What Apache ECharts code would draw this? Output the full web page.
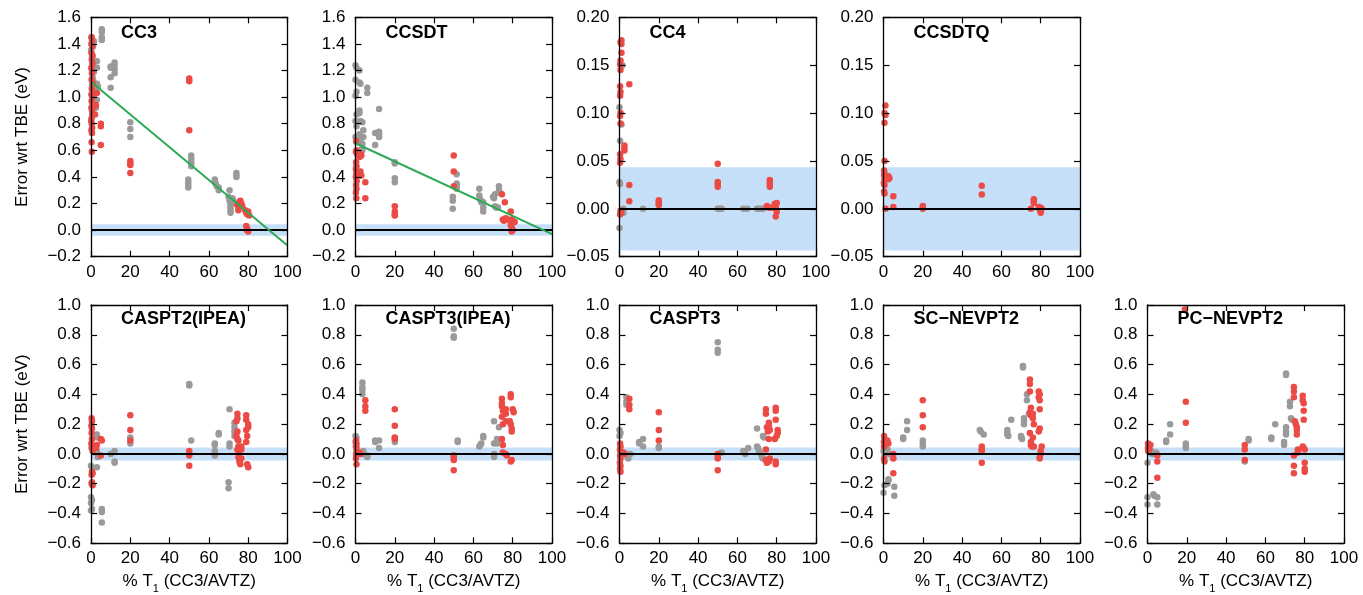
<!DOCTYPE html>
<html><head><meta charset="utf-8">
<script src="https://cdn.jsdelivr.net/npm/echarts@6/dist/echarts.min.js"></script>
<style>html,body{margin:0;padding:0;background:#fff}#c{width:1363px;height:595px}</style>
</head><body><div id="c"></div>
<script>
const panelNames = ['CC3','CCSDT','CC4','CCSDTQ','CASPT2(IPEA)','CASPT3(IPEA)','CASPT3','SC\u2212NEVPT2','PC\u2212NEVPT2'];
const xTicks = [0,20,40,60,80,100];
const yTicksWide = [-0.2,0,0.2,0.4,0.6,0.8,1.0,1.2,1.4,1.6];
const yTicksSmall = [-0.05,0,0.05,0.10,0.15,0.20];
const yTicksBottom = [-0.6,-0.4,-0.2,0,0.2,0.4,0.6,0.8,1.0];
const chemAccuracy = 0.0434;

const cc3Gray = [[0,1.35],[0.5,1.30],[1,1.26],[0.3,1.21],[1.5,1.19],[0.8,1.15],[1.2,1.12],[0.5,1.09],[2,1.05],[1.3,1.00],[2,0.95],[2.5,0.92],[1,1.38],[1.5,1.42],[0.2,1.45],[3,1.27],[3,1.22],[3,1.10],[3.5,1.08],[3,0.98],[5.5,1.51],[5.5,1.49],[5.5,1.45],[5.5,1.43],[10,1.23],[10,1.22],[10,1.15],[10,1.07],[12,1.26],[12,1.24],[12,1.21],[12,1.18],[20,0.81],[20,0.76],[20,0.70],[49.5,0.38],[49.5,0.36],[49.5,0.34],[49.5,0.32],[51,0.56],[51,0.54],[51,0.52],[51,0.50],[51,0.48],[63,0.38],[63,0.36],[63.5,0.35],[64,0.33],[65,0.32],[65,0.30],[70.5,0.30],[70,0.25],[70.5,0.22],[71,0.21],[71,0.19],[71,0.17],[71,0.15],[71,0.13],[72,0.24],[72.5,0.22],[73,0.20],[74,0.43],[74,0.41],[74,0.40]];
const cc3Red = [[0.3,1.45],[0.5,1.43],[0.2,1.40],[0.6,1.38],[0.3,1.33],[0.8,1.31],[0.4,1.28],[0.7,1.25],[0.2,1.22],[0.5,1.18],[0.3,1.13],[0.9,1.10],[0.4,1.06],[0.2,1.02],[0.6,1.00],[0.3,0.97],[0.8,0.94],[0.2,0.92],[0.5,0.90],[0.7,0.87],[0.3,0.84],[0.1,0.82],[0.4,0.80],[0.6,0.77],[0.2,0.75],[0.5,0.73],[0.3,0.66],[0.4,0.59],[3,1.03],[2.5,0.94],[2,0.87],[1.5,0.93],[5,0.80],[5,0.78],[5,0.64],[20,0.52],[20,0.50],[20,0.49],[20,0.43],[50,1.14],[50,1.12],[50,0.75],[74.5,0.19],[75,0.17],[75.5,0.21],[76,0.22],[76.5,0.20],[77,0.18],[75,0.15],[78.5,0.15],[79,0.13],[79.5,0.12],[80,0.14],[80.5,0.11],[79,0.03],[79.5,0.01],[80,-0.01],[79.3,0.0]];
const cc3Fit = [[0,1.115],[100,-0.115]];

const ccsdtGray = [[0,1.24],[0.5,1.22],[0,1.13],[0.5,1.04],[0,1.01],[0.5,0.87],[0,0.82],[0.5,0.78],[0,0.70],[0.5,0.66],[2,1.20],[2,1.11],[2.5,1.10],[2,0.90],[2,0.88],[2.5,0.82],[2,0.72],[2.5,0.68],[3.5,0.81],[3.5,0.65],[3.5,0.62],[3.5,0.60],[4,0.75],[4,0.70],[6,1.07],[6,1.03],[10,0.73],[10,0.64],[12,0.91],[12,0.74],[12,0.72],[12,0.70],[20,0.51],[20,0.50],[20,0.39],[20,0.36],[49.5,0.25],[49.5,0.22],[49.5,0.16],[51.5,0.42],[51.5,0.35],[51.5,0.33],[51.5,0.31],[63,0.31],[63,0.26],[63.5,0.23],[64,0.21],[65,0.21],[65,0.17],[65,0.14],[70,0.25],[70.5,0.24],[71,0.27],[71,0.18],[71.5,0.17],[73,0.33],[73,0.30],[73.5,0.28],[72.5,0.17]];
const ccsdtRed = [[0.3,0.67],[0.5,0.60],[0.2,0.59],[0.8,0.57],[0.3,0.51],[0.5,0.48],[0.2,0.46],[0.7,0.44],[0.4,0.42],[0.2,0.40],[0.6,0.37],[0.3,0.34],[0.5,0.31],[0.2,0.28],[0.4,0.24],[2,0.55],[2.5,0.44],[3,0.41],[2.5,0.57],[3,0.56],[5,0.36],[5,0.24],[20,0.18],[20,0.14],[20,0.12],[20,0.11],[50,0.56],[50,0.44],[50,0.33],[74.5,0.27],[75,0.08],[75.5,0.07],[76,0.21],[76.5,0.09],[77.5,0.08],[79,0.14],[79.5,0.08],[80,0.06],[79,0.04],[79.5,0.02],[80,0.0],[79.5,-0.01],[81,0.06]];
const ccsdtFit = [[0,0.653],[100,-0.03]];

const cc4Gray = [[0,0.106],[0.3,0.071],[0,0.028],[0.3,0.026],[0,-0.020],[1.5,0.150],[1,0.088],[2,0.0],[2,-0.004],[12,0.0],[50,0.0],[51,0.0],[52,0.0],[63,0.0],[65,0.0],[70,0.0],[71,0.0],[72,0.0],[73,0.0]];
const cc4Red = [[1,0.176],[0.5,0.174],[1,0.172],[1,0.163],[0.5,0.155],[0.3,0.151],[0.5,0.145],[0.3,0.128],[0.5,0.122],[0.3,0.118],[0.5,0.100],[0.3,0.097],[0.5,0.089],[0.3,0.057],[0.5,0.052],[0.3,0.048],[0.5,-0.002],[0.8,-0.004],[0.3,-0.006],[2.5,0.066],[2.5,0.063],[2.5,0.061],[5,0.130],[5,0.025],[5,0.008],[20,0.009],[20,0.007],[20,0.005],[20,0.004],[50,0.047],[50,0.028],[50,0.026],[50,0.023],[76.5,0.030],[76.5,0.027],[76.5,0.025],[76.5,0.023],[75,0.003],[75.5,0.002],[76,0.001],[77,0.001],[79,0.005],[80,0.006],[79.5,0.003],[79.5,0.0],[80,-0.003],[79.5,-0.008]];

const ccsdtqGray = [];
const ccsdtqRed = [[1,0.108],[0.5,0.100],[1,0.098],[0.5,0.090],[0.5,0.050],[0.3,0.040],[0.5,0.037],[0.3,0.035],[0.5,0.030],[0.2,0.027],[0.5,0.025],[0.3,0.018],[0.5,0.016],[1,0.0],[2.5,0.034],[3,0.032],[2.5,0.031],[5,0.013],[5,0.002],[20,0.003],[20,0.001],[20,0.0],[50,0.024],[50,0.015],[75,0.0],[76.5,0.010],[76.5,0.008],[76.5,0.006],[79,0.002],[80,0.001],[80.5,0.0],[79.5,-0.001],[80,-0.004]];

const caspt2Gray = [[0,-0.08],[0.5,-0.09],[0,-0.29],[0.5,-0.31],[0,-0.33],[0.5,-0.37],[0,-0.38],[3,0.13],[3,0.11],[3,-0.09],[3,0.02],[3.5,-0.02],[5.5,-0.37],[5.5,-0.39],[5.5,-0.46],[10,0.0],[12,0.02],[12,-0.05],[12,-0.06],[20,0.11],[20,0.10],[20,0.07],[50,0.47],[50,0.46],[51,0.09],[63,0.07],[63,0.06],[63,0.02],[63,0.0],[63,-0.01],[65,0.14],[65,0.13],[70.5,0.30],[70.5,0.07],[70.5,0.05],[70,-0.19],[70,-0.23],[73,0.21],[73,0.18],[73,0.15],[73,0.12]];
const caspt2Red = [[0.3,0.24],[0.5,0.22],[0.2,0.19],[0.5,0.17],[0.3,0.14],[0.5,0.10],[0.2,0.07],[0.5,0.05],[0.3,0.04],[0.8,0.02],[0.5,-0.12],[0.8,-0.13],[0.3,-0.14],[0.5,-0.19],[0.3,-0.20],[0.8,-0.21],[2,0.05],[3,0.06],[2.5,0.04],[5,0.10],[5.5,0.09],[5,-0.01],[20,0.26],[20,0.16],[20,0.09],[50,0.02],[50,0.00],[50,-0.01],[50,-0.08],[74.5,0.27],[74.5,0.24],[74,0.22],[74.5,0.15],[74,0.12],[74.5,0.10],[75,0.09],[75,0.05],[74.5,0.03],[75,0.01],[75,-0.02],[75.5,-0.05],[76,-0.07],[76.5,0.05],[76.5,0.03],[76.5,-0.03],[79,0.26],[79,0.23],[80,0.20],[80,0.18],[79,0.16],[79.5,0.12],[79,0.08],[79.5,-0.07],[80,-0.09]];

const caspt3iGray = [[0,0.12],[0.5,0.11],[0,0.08],[0.5,0.05],[3.5,0.48],[3.5,0.45],[3.5,0.43],[3.5,0.40],[4,0.02],[4,0.0],[6,-0.02],[6,-0.01],[10,0.09],[10,0.08],[12,0.09],[12,0.04],[20,0.10],[20,0.08],[50,0.84],[50,0.79],[50,0.78],[52,0.09],[52,0.08],[63,0.05],[63.5,0.06],[64,0.07],[65,0.12],[65,0.11],[70.5,0.22],[70.5,0.07],[70.5,0.0],[70.5,-0.02],[72,0.10],[72,0.09],[72,0.08],[72,0.07],[73,0.18]];
const caspt3iRed = [[0.3,0.09],[0.5,0.07],[0.2,0.05],[0.5,0.03],[0.8,0.01],[0.3,0.0],[0.5,-0.01],[0.2,-0.03],[0.5,-0.07],[2,0.01],[2.5,0.0],[5,0.36],[5,0.32],[5,0.29],[20,0.30],[20,0.19],[20,0.11],[20,0.10],[50,-0.01],[50,-0.02],[50,-0.04],[50,-0.11],[74.5,0.37],[74.5,0.34],[74.5,0.32],[75,0.29],[74.5,0.25],[75,0.20],[74.5,0.10],[75,0.06],[75,0.01],[76.5,0.30],[76.5,0.27],[76.5,0.22],[76.5,0.0],[77,-0.01],[79,0.40],[79,0.38],[80,0.30],[80.5,0.28],[78.5,0.22],[79,0.20],[79.5,0.17],[79.5,0.15],[79.5,-0.04],[79,-0.05]];

const caspt3Gray = [[0,0.16],[0.5,0.14],[0,0.12],[3.5,0.38],[3.5,0.35],[3.5,0.33],[4,-0.02],[4.5,-0.03],[4,0.0],[5.5,0.0],[10,0.07],[10,0.08],[12,0.10],[12,0.05],[20,0.05],[20,0.04],[50,0.75],[50,0.70],[50,0.68],[52,0.01],[63,0.02],[63.5,0.01],[64,0.0],[65.5,0.04],[70,0.17],[70,0.05],[70.5,0.04],[71,0.02],[72,0.0],[72.5,-0.02],[73,-0.03],[73,0.12],[73.5,0.11]];
const caspt3Red = [[0.3,0.07],[0.5,0.05],[0.2,0.03],[0.5,0.02],[0.8,0.0],[0.3,-0.01],[0.5,-0.03],[0.2,-0.06],[0.5,-0.08],[0.3,-0.10],[0.5,-0.12],[2,0.01],[2.5,0.0],[5,0.37],[5,0.33],[5,0.30],[20,0.28],[20,0.16],[20,0.09],[50,0.0],[50,-0.02],[50,-0.03],[50,-0.11],[74.5,0.30],[74.5,0.27],[75,0.18],[75.5,0.15],[74.5,0.03],[74.5,-0.04],[75,-0.06],[76,0.21],[76,0.19],[76.5,0.16],[76,0.10],[76.5,-0.03],[76,-0.05],[79.5,0.31],[79.5,0.29],[79.5,0.23],[80.5,0.16],[80.5,0.14],[80,0.12],[79,0.10],[79.5,-0.05],[79.5,-0.07]];

const scnevGray = [[0,0.02],[0.5,0.0],[0.5,-0.21],[0,-0.26],[2,0.03],[2.5,-0.17],[2.5,-0.18],[2,-0.20],[3,0.0],[5.5,-0.22],[5.5,-0.28],[10,0.11],[10,0.10],[12,0.22],[12,0.16],[20,0.09],[20,0.07],[20,0.05],[49,0.16],[49.5,0.15],[51,0.13],[63,0.16],[63,0.14],[63,0.13],[63.5,0.12],[65,0.23],[70,0.12],[70,0.11],[70.5,0.10],[71,0.59],[71,0.58],[71.5,0.24],[71.5,0.22],[71.5,0.20],[73,0.40],[73,0.36],[74,0.27]];
const scnevRed = [[0.3,0.12],[0.5,0.10],[0.2,0.08],[0.5,0.06],[0.3,0.05],[0.3,-0.03],[0.5,-0.05],[2,0.09],[2.5,0.07],[2,0.08],[5,-0.13],[5,0.0],[5,-0.03],[20,0.36],[20,0.26],[20,0.18],[50,0.05],[50,0.03],[50,0.02],[50,-0.06],[74.5,0.50],[74.5,0.47],[74.5,0.42],[75,0.31],[74.5,0.28],[75,0.26],[74.5,0.14],[75,0.08],[75,0.06],[75.5,0.05],[76,0.27],[76,0.24],[76.5,0.20],[76,0.11],[76.5,0.05],[79,0.42],[79.5,0.40],[79,0.38],[79.5,0.36],[79.5,0.30],[79.5,0.17],[79,0.15],[80.5,0.05],[80,0.02],[80,0.0],[79.5,-0.02],[79.5,-0.03]];

const pcnevGray = [[0,-0.06],[0,-0.29],[0,-0.34],[2,0.02],[2.5,0.0],[3,-0.27],[3.5,-0.28],[5,-0.29],[5,-0.34],[4.5,0.01],[9.5,0.09],[9.5,0.08],[11.5,0.20],[11.5,0.13],[19.5,0.07],[19.5,0.05],[19.5,0.04],[49.5,-0.05],[51.5,0.10],[51.5,0.09],[63,0.11],[63,0.10],[65,0.20],[69.5,0.08],[69.5,0.06],[70.5,0.54],[70.5,0.53],[70.5,0.18],[70.5,0.15],[70.5,0.13],[72.5,0.35],[72.5,0.32],[73,0.24],[73.5,0.23]];
const pcnevRed = [[0.3,0.07],[0.5,0.05],[0.2,0.04],[0.8,0.03],[0.3,0.02],[1.5,0.06],[5,-0.01],[5,-0.05],[5,-0.16],[19,0.97],[19.5,0.35],[19.5,0.21],[49.5,0.06],[49.5,0.03],[49.5,-0.04],[74.5,0.45],[74.5,0.42],[74.5,0.38],[75,0.22],[75.5,0.20],[76,0.18],[76,0.16],[76,0.13],[74.5,-0.01],[74.5,-0.08],[74.5,-0.13],[76.5,0.03],[76.5,0.01],[79,0.39],[79,0.36],[79.5,0.34],[79.5,0.29],[79.5,0.23],[79,0.05],[79.5,0.04],[80,0.03],[80,-0.06],[80,-0.10],[80,-0.12]];

const grayData = [cc3Gray, ccsdtGray, cc4Gray, ccsdtqGray, caspt2Gray, caspt3iGray, caspt3Gray, scnevGray, pcnevGray];
const redData = [cc3Red, ccsdtRed, cc4Red, ccsdtqRed, caspt2Red, caspt3iRed, caspt3Red, scnevRed, pcnevRed];
const fitData = [cc3Fit, ccsdtFit, null, null, null, null, null, null, null];
const yTickSets = [yTicksWide, yTicksWide, yTicksSmall, yTicksSmall, yTicksBottom, yTicksBottom, yTicksBottom, yTicksBottom, yTicksBottom];
const yDecimals = [1,1,2,2,1,1,1,1,1];
const yAxisTitle = 'Error wrt TBE (eV)';

const FONT = '"Liberation Sans", Arial, Helvetica, sans-serif';
const lefts = [91, 355.5, 619.5, 883.5, 1147.5];
const W = 196.5;
const rows = [{top:17.3, h:239.4}, {top:305, h:238.3}];
const panelPos = [[0,0],[0,1],[0,2],[0,3],[1,0],[1,1],[1,2],[1,3],[1,4]];

const grids = [], xAxes = [], yAxes = [], series = [], titles = [];
const fmtY = (d) => (v) => { const s = (+v).toFixed(d); return (s.indexOf('-') === 0 ? '\u2212' + s.slice(1) : s); };

panelNames.forEach((name, i) => {
  const [r, c] = panelPos[i];
  const L = lefts[c], T = rows[r].top, H = rows[r].h;
  grids.push({left: L, top: T, width: W, height: H, outerBoundsMode: 'none', containLabel: false});
  const ticks = yTickSets[i];
  const yMin = ticks[0], yMax = ticks[ticks.length - 1];
  const yInt = +(ticks[1] - ticks[0]).toFixed(4);
  const xInt = xTicks[1] - xTicks[0];
  const axLine = {show: true, onZero: false, lineStyle: {color: '#000', width: 1.3}};
  const tick = {show: true, inside: true, length: 6, lineStyle: {color: '#000', width: 1.2}};
  const lblX = {show: true, color: '#000', fontSize: 17, fontFamily: FONT, margin: 7, showMinLabel: true, showMaxLabel: true};
  const bottomX = {gridIndex: i, type: 'value', min: xTicks[0], max: xTicks[xTicks.length-1], interval: xInt, position: 'bottom', z: 10,
    axisLine: axLine, axisTick: tick, axisLabel: lblX, splitLine: {show: false}};
  if (r === 1) {
    bottomX.name = '{a|% T}{s|1}{a| (CC3/AVTZ)}';
    bottomX.nameLocation = 'middle';
    bottomX.nameGap = 30;
    bottomX.nameTextStyle = {rich: {
      a: {fontSize: 17, fontFamily: FONT, color: '#000', lineHeight: 22, verticalAlign: 'top'},
      s: {fontSize: 11, fontFamily: FONT, color: '#000', lineHeight: 14, verticalAlign: 'top', padding: [10, 0, 0, 0]}
    }};
  }
  xAxes.push(bottomX);
  xAxes.push({gridIndex: i, type: 'value', min: xTicks[0], max: xTicks[xTicks.length-1], interval: xInt, position: 'top', z: 10,
    axisLine: axLine, axisTick: tick, axisLabel: {show: false}, splitLine: {show: false}});
  const leftY = {gridIndex: i, type: 'value', min: yMin, max: yMax, interval: yInt, position: 'left', z: 10,
    axisLine: axLine, axisTick: tick, splitLine: {show: false},
    axisLabel: {show: true, color: '#000', fontSize: 17, fontFamily: FONT, margin: 10, formatter: fmtY(yDecimals[i]), showMinLabel: true, showMaxLabel: true}};
  if (c === 0) {
    leftY.name = yAxisTitle;
    leftY.nameLocation = 'middle';
    leftY.nameGap = 60;
    leftY.nameTextStyle = {color: '#000', fontSize: 17, fontFamily: FONT};
  }
  yAxes.push(leftY);
  yAxes.push({gridIndex: i, type: 'value', min: yMin, max: yMax, interval: yInt, position: 'right', z: 10,
    axisLine: axLine, axisTick: tick, axisLabel: {show: false}, splitLine: {show: false}});

  const xi = 2 * i, yi = 2 * i;
  series.push({type: 'line', xAxisIndex: xi, yAxisIndex: yi, data: [], z: 1, silent: true,
    markArea: {silent: true, itemStyle: {color: '#c6dff9', opacity: 1}, data: [[{yAxis: -chemAccuracy}, {yAxis: chemAccuracy}]]}});
  series.push({type: 'line', xAxisIndex: xi, yAxisIndex: yi, data: [], z: 2, silent: true,
    markLine: {silent: true, symbol: ['none', 'none'], label: {show: false}, lineStyle: {color: '#000', width: 2, type: 'solid'}, data: [{yAxis: 0}]}});
  series.push({type: 'scatter', xAxisIndex: xi, yAxisIndex: yi, data: grayData[i], z: 3, symbolSize: 6.5,
    itemStyle: {color: '#9a9a9a', opacity: 1}});
  series.push({type: 'scatter', xAxisIndex: xi, yAxisIndex: yi, data: redData[i], z: 4, symbolSize: 6.5,
    itemStyle: {color: '#ec4a45', opacity: 1}});
  if (fitData[i]) {
    series.push({type: 'line', xAxisIndex: xi, yAxisIndex: yi, data: fitData[i], z: 5, symbol: 'none', clip: true,
      lineStyle: {color: '#2aaa52', width: 2}});
  }
  titles.push({text: name, left: L + 30, top: r === 0 ? 24 : 310, padding: 0,
    textStyle: {color: '#000', fontWeight: 'bold', fontSize: 18, fontFamily: FONT}});
});

const chart = echarts.init(document.getElementById('c'), null, {renderer: 'canvas'});
chart.setOption({animation: false, backgroundColor: '#fff', title: titles, grid: grids, xAxis: xAxes, yAxis: yAxes, series: series});
</script></body></html>
